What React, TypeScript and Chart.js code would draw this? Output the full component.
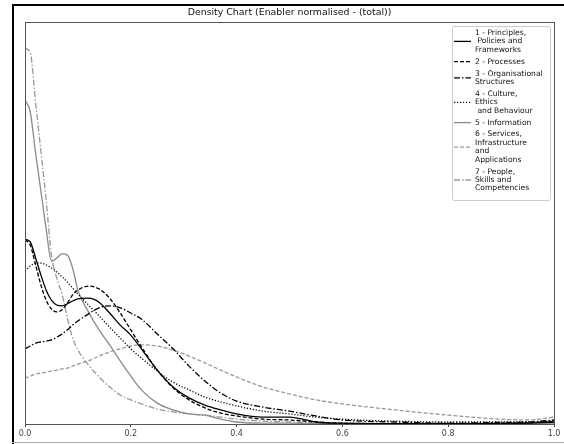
import React, { useEffect, useRef } from "react";
import { Chart, registerables } from "chart.js";

Chart.register(...registerables);

const TITLE = "Density Chart (Enabler normalised - (total))";

const X_VALUES = [0, 0.01, 0.02, 0.03, 0.04, 0.05, 0.06, 0.07, 0.08, 0.09, 0.1, 0.12, 0.14, 0.16, 0.18, 0.2, 0.22, 0.25, 0.28, 0.31, 0.34, 0.37, 0.4, 0.45, 0.5, 0.55, 0.6, 0.7, 0.8, 0.9, 0.95, 1.0];

const PRINCIPLES = [4.6, 4.53, 4.13, 3.71, 3.33, 3.08, 2.96, 2.94, 2.99, 3.06, 3.11, 3.13, 3.03, 2.76, 2.46, 2.21, 1.87, 1.34, 0.92, 0.65, 0.47, 0.35, 0.25, 0.17, 0.17, 0.05, 0.02, 0.01, 0.01, 0.01, 0.02, 0.05];
const PROCESSES = [4.58, 4.45, 3.96, 3.46, 3.08, 2.86, 2.79, 2.84, 3.01, 3.21, 3.33, 3.43, 3.36, 3.13, 2.76, 2.34, 1.92, 1.34, 0.9, 0.6, 0.4, 0.27, 0.2, 0.12, 0.1, 0.05, 0.02, 0.01, 0.01, 0.01, 0.03, 0.07];
const ORG_STRUCTURES = [1.87, 1.94, 2.01, 2.04, 2.06, 2.09, 2.16, 2.24, 2.34, 2.46, 2.56, 2.74, 2.89, 2.94, 2.89, 2.76, 2.61, 2.24, 1.87, 1.44, 1.07, 0.77, 0.57, 0.42, 0.32, 0.2, 0.1, 0.05, 0.02, 0.04, 0.05, 0.1];
const CULTURE = [3.81, 3.93, 4.0, 4.0, 3.96, 3.88, 3.78, 3.66, 3.53, 3.38, 3.23, 2.96, 2.69, 2.41, 2.14, 1.87, 1.64, 1.32, 1.04, 0.85, 0.67, 0.55, 0.45, 0.32, 0.25, 0.17, 0.12, 0.07, 0.05, 0.05, 0.05, 0.07];
const INFORMATION = [8.06, 7.76, 6.74, 5.8, 4.85, 4.05, 4.13, 4.23, 4.2, 3.88, 3.33, 2.79, 2.34, 1.97, 1.57, 1.19, 0.85, 0.52, 0.35, 0.25, 0.22, 0.12, 0.05, 0.02, 0.02, 0.01, 0.01, 0.01, 0.01, 0.01, 0.01, 0.02];
const SERVICES = [1.14, 1.19, 1.24, 1.27, 1.29, 1.32, 1.34, 1.37, 1.39, 1.44, 1.49, 1.57, 1.69, 1.79, 1.87, 1.94, 1.97, 1.94, 1.84, 1.69, 1.52, 1.34, 1.17, 0.92, 0.75, 0.6, 0.5, 0.35, 0.22, 0.12, 0.1, 0.17];
const PEOPLE = [9.35, 9.23, 8.01, 6.79, 5.57, 4.2, 3.63, 3.23, 2.64, 2.14, 1.84, 1.47, 1.17, 0.92, 0.72, 0.6, 0.5, 0.37, 0.3, 0.25, 0.22, 0.17, 0.12, 0.07, 0.05, 0.025, 0.01, 0.01, 0.01, 0.01, 0.025, 0.05];

const SERIES_LABELS = [
  "1 - Principles,\n Policies and\nFrameworks",
  "2 - Processes",
  "3 - Organisational\nStructures",
  "4 - Culture,\nEthics\n and Behaviour",
  "5 - Information",
  "6 - Services,\nInfrastructure\nand\nApplications",
  "7 - People,\nSkills and\nCompetencies",
];

const X_TICKS = [0, 0.2, 0.4, 0.6, 0.8, 1.0];

const STYLES = [
  { color: "#000000", dash: [] as number[], width: 1.3 },
  { color: "#000000", dash: [4, 2], width: 1.3 },
  { color: "#000000", dash: [6, 2, 1.5, 2], width: 1.3 },
  { color: "#000000", dash: [1.2, 1.8], width: 1.3 },
  { color: "#8a8a8a", dash: [] as number[], width: 1.3 },
  { color: "#999999", dash: [4, 2], width: 1.3 },
  { color: "#999999", dash: [6, 2, 1.5, 2], width: 1.3 },
];

const FONT = "'DejaVu Sans', sans-serif";

const decorPlugin = {
  id: "decor",
  afterDraw(chart: any) {
    const ctx = chart.ctx as CanvasRenderingContext2D;
    const a = chart.chartArea;
    ctx.save();
    // outer frame
    ctx.strokeStyle = "#000";
    ctx.lineWidth = 2;
    ctx.beginPath();
    ctx.moveTo(13, 444);
    ctx.lineTo(13, 5);
    ctx.lineTo(564, 5);
    ctx.stroke();
    ctx.strokeStyle = "#aaa";
    ctx.lineWidth = 1;
    ctx.beginPath();
    ctx.moveTo(12, 442.5);
    ctx.lineTo(564, 442.5);
    ctx.stroke();
    // axes box
    ctx.strokeStyle = "#555";
    ctx.lineWidth = 1;
    ctx.strokeRect(Math.round(a.left) + 0.5, Math.round(a.top) + 0.5, Math.round(a.right - a.left), Math.round(a.bottom - a.top));
    // title
    ctx.fillStyle = "#111";
    ctx.font = `9.4px ${FONT}`;
    ctx.textAlign = "center";
    ctx.textBaseline = "middle";
    ctx.fillText(TITLE, (a.left + a.right) / 2, 13);
    // legend
    const boxL = 452, boxT = 26, boxR = 550, boxB = 200;
    ctx.fillStyle = "rgba(255,255,255,0.85)";
    ctx.strokeStyle = "#cccccc";
    ctx.beginPath();
    const r = 2;
    ctx.moveTo(boxL + r, boxT + 0.5);
    ctx.lineTo(boxR - r, boxT + 0.5);
    ctx.quadraticCurveTo(boxR + 0.5, boxT + 0.5, boxR + 0.5, boxT + r);
    ctx.lineTo(boxR + 0.5, boxB - r);
    ctx.quadraticCurveTo(boxR + 0.5, boxB + 0.5, boxR - r, boxB + 0.5);
    ctx.lineTo(boxL + r, boxB + 0.5);
    ctx.quadraticCurveTo(boxL + 0.5, boxB + 0.5, boxL + 0.5, boxB - r);
    ctx.lineTo(boxL + 0.5, boxT + r);
    ctx.quadraticCurveTo(boxL + 0.5, boxT + 0.5, boxL + r, boxT + 0.5);
    ctx.fill();
    ctx.stroke();
    const lineH = 8.4;
    const gap = 3.5;
    let y = 33;
    ctx.font = `7.6px ${FONT}`;
    ctx.textAlign = "left";
    ctx.textBaseline = "middle";
    SERIES_LABELS.forEach((label, i) => {
      const lines = label.split("\n");
      const mid = y + ((lines.length - 1) * lineH) / 2;
      const st = STYLES[i];
      ctx.strokeStyle = st.color;
      ctx.lineWidth = st.width;
      ctx.setLineDash(st.dash);
      ctx.beginPath();
      ctx.moveTo(454, mid);
      ctx.lineTo(471, mid);
      ctx.stroke();
      ctx.setLineDash([]);
      ctx.fillStyle = "#111";
      lines.forEach((ln, j) => {
        ctx.fillText(ln, 475, y + j * lineH);
      });
      y += lines.length * lineH + gap;
    });
    ctx.restore();
  },
};

export default function App() {
  const ref = useRef<HTMLCanvasElement | null>(null);
  useEffect(() => {
    if (!ref.current) return;
    const series = [PRINCIPLES, PROCESSES, ORG_STRUCTURES, CULTURE, INFORMATION, SERVICES, PEOPLE];
    const chart = new Chart(ref.current, {
      type: "line",
      data: {
        datasets: series.map((vals, i) => ({
          label: SERIES_LABELS[i].replace(/\n/g, " "),
          data: X_VALUES.map((x, k) => ({ x, y: vals[k] })),
          borderColor: STYLES[i].color,
          borderDash: STYLES[i].dash,
          borderWidth: STYLES[i].width,
          pointRadius: 0,
          fill: false,
          cubicInterpolationMode: "monotone" as const,
        })),
      },
      options: {
        animation: false,
        responsive: false,
        devicePixelRatio: 1,
        layout: { padding: { left: 25, right: 10, top: 22, bottom: 0 } },
        plugins: { legend: { display: false }, title: { display: false }, tooltip: { enabled: false } },
        scales: {
          x: {
            type: "linear",
            min: 0,
            max: 1,
            afterFit: (s: any) => {
              s.height = 20;
            },
            afterBuildTicks: (s: any) => {
              s.ticks = X_TICKS.map((v) => ({ value: v }));
            },
            ticks: {
              callback: (v: any) => Number(v).toFixed(1),
              font: { family: FONT, size: 8 },
              color: "#444",
              padding: 2,
              maxRotation: 0,
              autoSkip: false,
            },
            grid: { display: true, drawOnChartArea: false, drawTicks: true, tickLength: 3, color: "#444" },
            border: { display: true, color: "#555" },
          },
          y: { display: false, min: 0, max: 10 },
        },
      },
      plugins: [decorPlugin],
    });
    return () => chart.destroy();
  }, []);
  return (
    <div style={{ position: "fixed", left: 0, top: 0, width: 564, height: 444, background: "#fff" }}>
      <canvas ref={ref} width={564} height={444} style={{ display: "block", width: 564, height: 444 }} />
    </div>
  );
}
